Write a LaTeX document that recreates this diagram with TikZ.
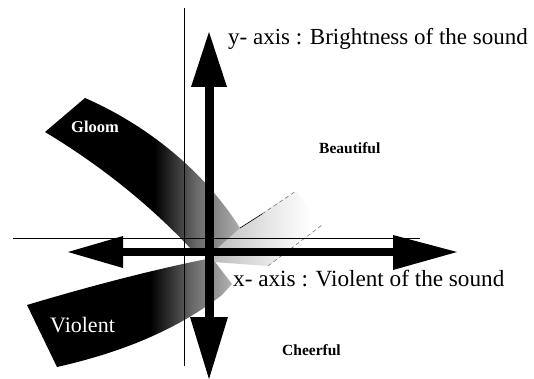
\documentclass[tikz,border=0pt]{standalone}
\usepackage{fontspec}
\setmainfont{Liberation Serif}
\colorlet{gA}{black!58}
\colorlet{gB}{black!32}
\colorlet{gC}{black!60}
\colorlet{gD}{black!30}
\colorlet{gE}{black!26}
\colorlet{gF}{black!10}
\pgfdeclarehorizontalshading{gloomsh}{100bp}{color(0bp)=(black); color(53bp)=(black); color(64bp)=(gA); color(75bp)=(gB); color(100bp)=(gB)}
\pgfdeclarehorizontalshading{violsh}{100bp}{color(0bp)=(black); color(55bp)=(black); color(65bp)=(gC); color(75bp)=(gD); color(100bp)=(gD)}
\pgfdeclarehorizontalshading{beautsh}{100bp}{color(0bp)=(gE); color(25bp)=(gE); color(50bp)=(gF); color(70bp)=(white); color(100bp)=(white)}
\begin{document}
\begin{tikzpicture}[x=1pt,y=-1pt,
  lbl/.style={inner sep=0pt, anchor=base west},
  thinline/.style={draw=black, line width=0.9pt},
  headfill/.style={fill=black},
  faint/.style={black!55, line width=0.6pt, dash pattern=on 4pt off 3pt}]
\useasboundingbox (0,0) rectangle (534,379);
% light wedge (Beautiful direction)
\shade[shading=beautsh] (240,228) -- (296,191) -- (322,225) -- (268,266) -- (213,262) -- (213,238) -- cycle;
\draw[black, line width=0.6pt] (240,228) -- (262,214);
\draw[faint] (262,214) -- (296,191);
\draw[faint] (268,266) -- (322,225);
% Gloom band
\shade[shading=gloomsh] (85,98) .. controls (140,122) and (200,165) .. (240,228)
  -- (213,252) -- (192,250) .. controls (150,205) and (100,165) .. (45,132) -- cycle;
% Violent band
\shade[shading=violsh] (27,305) .. controls (90,286) and (160,268) .. (212,258)
  -- (232,284) -- (222,295) .. controls (170,335) and (110,355) .. (57,367) -- cycle;
% thin axes
\coordinate (vt) at (184,8);
\coordinate (vb) at (184,366);
\coordinate (hl) at (13,238.5);
\coordinate (hr) at (420,238.5);
\draw[thinline] (vt) -- (vb);
\draw[thinline] (hl) -- (hr);
% thick vertical arrow
\coordinate (ytop) at (209,32);
\coordinate (ybot) at (209,379);
\fill (204.5,85) rectangle (213.5,319);
\fill[headfill] (ytop) -- (191,87) -- (227,87) -- cycle;
\fill[headfill] (ybot) -- (190,317) -- (228,317) -- cycle;
% thick horizontal arrow
\coordinate (xleft) at (68,252);
\coordinate (xright) at (457,252);
\fill (121,248) rectangle (395,256);
\fill[headfill] (xleft) -- (123,236) -- (123,268) -- cycle;
\fill[headfill] (xright) -- (393,235) -- (393,270) -- cycle;
% labels
\node[lbl, font=\fontsize{23}{25}\selectfont] (ylab) at (228,45) {y- axis : Brightness of the sound};
\node[lbl, font=\fontsize{23.2}{25}\selectfont] (xlab) at (233,286) {x- axis : Violent of the sound};
\node[lbl, text=white, font=\fontsize{16.5}{18}\selectfont\bfseries] (gloom) at (71,133) {Gloom};
\node[lbl, text=white, font=\fontsize{22}{24}\selectfont] (violent) at (50,332) {Violent};
\node[lbl, font=\fontsize{15.5}{17}\selectfont\bfseries] (beaut) at (319,154) {Beautiful};
\node[lbl, font=\fontsize{15.5}{17}\selectfont\bfseries] (cheer) at (282,355) {Cheerful};
\end{tikzpicture}
\end{document}
